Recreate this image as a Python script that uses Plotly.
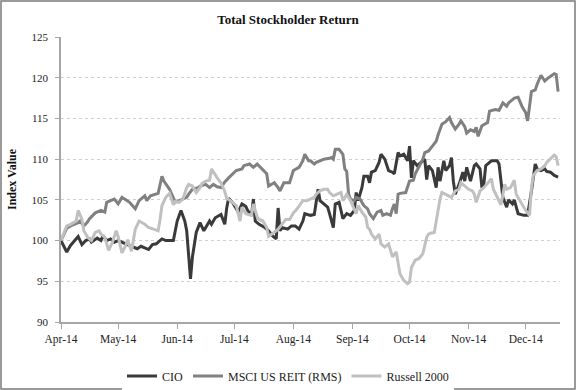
import plotly.graph_objects as go

YEAR = "2014"

cio_dates = ["04-01","04-04","04-06","04-08","04-10","04-12","04-14","04-16","04-17","04-20","04-22","04-23","04-25","04-27","04-29",
             "05-01","05-03","05-06","05-09","05-11","05-13","05-15","05-17","05-19","05-21","05-24","05-26","05-28","05-30",
             "06-01","06-03","06-05","06-06","06-08","06-09","06-11","06-12","06-13","06-15","06-18","06-19","06-21","06-24","06-26","06-27","06-28","06-30",
             "07-03","07-05","07-07","07-08","07-10","07-11","07-12","07-14","07-17","07-19","07-21","07-23","07-24","07-25","07-26","07-29","07-31",
             "08-02","08-04","08-06","08-07","08-10","08-12","08-14","08-15","08-17","08-19","08-20","08-22","08-23","08-25","08-26","08-27","08-29","08-31",
             "09-02","09-03","09-04","09-06","09-07","09-09","09-10","09-11","09-13","09-15","09-16","09-18","09-20","09-22","09-23","09-25","09-26","09-28","09-30",
             "10-01","10-02","10-03","10-05","10-07","10-09","10-10","10-11","10-13","10-15","10-16","10-17","10-19","10-20","10-22","10-23","10-24","10-25","10-27","10-29","10-30","10-31",
             "11-02","11-04","11-05","11-07","11-08","11-09","11-10","11-13","11-16","11-17","11-19","11-21","11-22","11-24","11-25","11-27","11-30",
             "12-02","12-04","12-06","12-07","12-09","12-11","12-12","12-14","12-16","12-18"]
cio_values = [100.0,98.6,99.4,100.0,100.5,99.5,100.0,100.2,99.8,100.3,100.0,100.6,100.0,100.2,99.8,
              100.0,99.8,99.5,99.3,99.0,99.3,99.1,98.9,99.5,99.6,100.2,100.0,100.0,100.0,
              102.4,103.7,102.4,101.2,95.3,98.0,101.0,101.6,102.2,101.2,102.4,102.0,102.8,103.2,102.0,104.0,105.2,104.7,
              103.5,104.5,104.2,103.7,103.1,105.1,102.4,102.0,101.6,101.2,100.6,100.2,104.0,101.2,101.6,101.4,101.8,
              101.8,101.4,102.4,103.3,103.1,103.2,106.3,104.9,104.5,104.1,103.3,101.6,104.5,104.7,103.7,102.7,103.3,103.1,
              103.7,105.9,104.9,106.5,107.9,107.9,107.1,108.4,108.6,109.6,110.6,110.0,108.6,108.4,108.2,110.8,110.4,110.6,109.8,
              111.6,107.7,109.8,109.2,109.6,110.0,107.5,109.2,108.6,106.5,109.0,107.3,109.8,108.6,109.2,110.2,107.3,105.7,106.9,108.4,107.3,109.0,
              107.3,109.2,109.4,108.8,106.5,106.9,109.2,109.8,109.8,109.4,105.3,104.1,105.0,104.5,105.0,103.3,103.1,
              103.1,106.1,109.4,108.8,108.6,108.8,108.5,108.4,108.0,107.8]

msci_dates = ["04-01","04-04","04-06","04-08","04-10","04-11","04-13","04-15","04-16","04-19","04-22","04-24","04-25","04-27","04-29",
              "05-01","05-03","05-05","05-07","05-10","05-12","05-15","05-16","05-18","05-20","05-22","05-24","05-25","05-28","05-30","05-31",
              "06-02","06-04","06-06","06-07","06-09","06-12","06-13","06-16","06-18","06-20","06-22","06-24","06-26","06-28",
              "07-02","07-05","07-06","07-09","07-11","07-13","07-16","07-18","07-19","07-22","07-24","07-25","07-27","07-30",
              "08-01","08-04","08-06","08-07","08-09","08-10","08-12","08-13","08-15","08-17","08-20","08-21","08-22","08-23","08-25","08-27","08-28","08-29","08-30","08-31",
              "09-02","09-03","09-05","09-07","09-09","09-10","09-12","09-14","09-16","09-17","09-19","09-21","09-22","09-23","09-24","09-25","09-26","09-29",
              "10-01","10-03","10-04","10-06","10-08","10-09","10-11","10-13","10-15","10-16","10-18","10-20","10-22","10-23","10-25","10-27","10-28","10-30","10-31",
              "11-02","11-04","11-05","11-06","11-08","11-11","11-12","11-15","11-17","11-19","11-21","11-22","11-25","11-27","11-29",
              "12-01","12-02","12-04","12-06","12-07","12-09","12-11","12-13","12-16","12-17","12-18"]
msci_values = [100.0,101.5,101.8,102.0,102.2,102.4,101.8,102.3,102.7,103.4,103.7,103.5,104.7,104.9,105.1,
               104.5,105.3,105.0,104.7,103.9,104.9,105.5,104.9,105.5,105.7,105.8,107.9,107.3,106.3,105.1,104.7,
               104.9,105.1,105.3,105.7,106.3,106.5,106.7,106.9,106.5,106.9,106.6,106.5,107.2,107.7,
               108.6,108.8,109.2,109.4,109.0,109.4,108.6,108.2,106.7,107.1,106.5,106.1,107.1,107.1,
               108.6,109.0,109.8,110.6,109.8,109.8,109.4,109.6,109.8,110.0,110.1,110.2,110.0,111.2,111.2,110.6,108.8,108.5,105.7,105.1,
               104.9,105.3,105.1,104.3,103.9,103.3,102.7,103.5,103.7,103.1,103.3,103.1,103.9,104.5,103.3,105.7,105.8,105.9,
               107.3,107.4,108.2,109.2,110.0,110.8,111.0,111.6,112.2,113.0,114.3,114.6,115.1,114.5,113.7,114.3,114.7,114.0,113.2,
               113.6,113.4,113.9,112.8,114.1,114.5,115.9,116.1,116.0,116.9,116.5,116.9,117.5,117.6,116.5,
               115.7,114.7,118.3,118.5,119.2,120.3,119.6,120.0,120.5,120.4,118.3]

r2k_dates = ["04-01","04-04","04-06","04-08","04-09","04-10","04-12","04-13","04-15","04-17","04-19","04-21","04-22","04-24","04-26","04-28","04-30",
             "05-01","05-03","05-05","05-06","05-08","05-10","05-12","05-15","05-17","05-20","05-22","05-23","05-24","05-26","05-28","05-30","05-31",
             "06-02","06-04","06-06","06-07","06-09","06-11","06-13","06-14","06-16","06-18","06-19","06-20","06-22","06-24","06-26","06-27","06-29",
             "07-02","07-04","07-05","07-07","07-10","07-11","07-13","07-14","07-16","07-18","07-19","07-21","07-23","07-24","07-26","07-28","07-30",
             "08-01","08-03","08-05","08-06","08-08","08-10","08-12","08-13","08-15","08-17","08-19","08-20","08-22","08-24","08-26","08-27","08-29","08-31",
             "09-02","09-03","09-04","09-06","09-08","09-09","09-10","09-11","09-13","09-15","09-16","09-18","09-20","09-22","09-24","09-25","09-26","09-28","09-30",
             "10-01","10-02","10-04","10-06","10-08","10-09","10-10","10-11","10-12","10-14","10-16","10-17","10-18","10-20","10-22","10-23","10-25","10-27","10-28","10-30",
             "11-01","11-03","11-04","11-05","11-07","11-09","11-11","11-13","11-14","11-16","11-18","11-20","11-21","11-23","11-25","11-26","11-27","11-29",
             "12-01","12-03","12-04","12-05","12-07","12-09","12-11","12-12","12-14","12-16","12-17","12-18"]
r2k_values = [100.0,101.8,102.0,102.2,102.4,103.7,102.6,101.2,100.4,100.0,101.0,101.2,100.8,100.4,98.8,99.8,101.2,
              100.5,98.5,99.4,100.1,98.7,101.4,102.4,102.0,101.6,101.4,101.2,102.6,104.3,105.3,105.8,104.4,104.8,
              104.7,105.1,106.5,106.9,106.7,105.9,106.5,107.0,107.3,107.4,108.8,108.4,107.7,107.1,106.0,105.2,104.9,
              104.3,102.4,104.1,103.3,103.1,104.5,102.9,102.6,102.4,101.6,100.5,100.8,101.2,101.4,102.0,102.6,102.6,
              103.4,103.9,104.5,104.9,104.9,105.1,105.3,105.7,106.1,106.3,106.3,105.9,105.5,105.7,105.9,104.9,105.7,104.9,
              103.9,103.3,104.3,103.5,102.9,101.6,101.4,100.8,100.2,100.8,99.6,99.2,99.6,98.0,98.6,97.2,95.9,95.1,94.7,
              94.9,96.7,97.6,97.8,98.4,99.4,100.4,100.8,100.9,101.0,104.1,105.1,105.9,105.7,105.5,105.3,106.1,106.3,107.1,106.7,
              106.3,106.1,105.7,104.7,106.1,106.5,107.1,107.6,106.3,105.3,104.4,106.9,106.3,106.5,107.4,105.7,105.3,104.6,
              103.7,103.1,106.5,108.0,108.6,108.8,109.2,109.6,110.1,110.5,110.3,109.2]

series_names = ["CIO", "MSCI US REIT (RMS)", "Russell 2000"]
series_colors = ["#3a3a3a", "#808080", "#c0c0c0"]

W, H = 576, 390
ML, MR, MT, MB = 61, 16, 37, 68
SERIF = "Liberation Serif"

fig = go.Figure()
for name, color, dates, vals in zip(series_names, series_colors,
                                     [cio_dates, msci_dates, r2k_dates],
                                     [cio_values, msci_values, r2k_values]):
    fig.add_trace(go.Scatter(x=[f"{YEAR}-{d}" for d in dates], y=vals, mode="lines",
                             name=name, line=dict(color=color, width=3)))

pw = W - ML - MR
ph = H - MT - MB
fig.add_shape(type="rect", xref="paper", yref="paper",
              x0=-(ML - 1) / pw, x1=1 + (MR - 1) / pw,
              y0=-(MB - 1) / ph, y1=1 + (MT - 1) / ph,
              line=dict(color="#7a7a7a", width=1.5), fillcolor="rgba(0,0,0,0)", layer="above")

fig.update_layout(
    width=W, height=H,
    margin=dict(l=ML, r=MR, t=MT, b=MB),
    paper_bgcolor="white", plot_bgcolor="white",
    font=dict(family=SERIF, color="#222222", size=11),
    title=dict(text="<b>Total Stockholder Return</b>", x=0.5, xref="container", xanchor="center",
               y=1 - 19 / H, yref="container", yanchor="middle",
               font=dict(family=SERIF, size=13, color="#111111")),
    legend=dict(orientation="h", x=288 / W, xref="container", xanchor="center",
                y=1 - 376 / H, yref="container", yanchor="middle",
                font=dict(family=SERIF, size=12, color="#222222"),
                itemwidth=30, tracegroupgap=0),
    showlegend=True,
)
fig.update_xaxes(type="date", range=["2014-04-01", "2014-12-19"],
                 tick0="2014-04-01", dtick="M1", tickformat="%b-%y",
                 showgrid=False, showline=True, linecolor="#a6a6a6", linewidth=1.5,
                 ticks="outside", ticklen=5, tickcolor="#a6a6a6",
                 tickfont=dict(family=SERIF, size=11.5, color="#222222"), zeroline=False)
fig.update_yaxes(range=[90, 125], dtick=5, showgrid=True, gridcolor="#cfcfcf", griddash="dot", gridwidth=1,
                 showline=True, linecolor="#a6a6a6", linewidth=1.5,
                 ticks="outside", ticklen=4, tickcolor="#a6a6a6", ticklabelstandoff=5,
                 tickfont=dict(family=SERIF, size=11, color="#222222"), zeroline=False,
                 title=dict(text="<b>Index Value</b>", standoff=12,
                            font=dict(family=SERIF, size=12, color="#111111")))

fig.write_html("out.html", config={"displayModeBar": False},
               post_script="document.body.style.margin='0';document.body.style.overflow='hidden';")
